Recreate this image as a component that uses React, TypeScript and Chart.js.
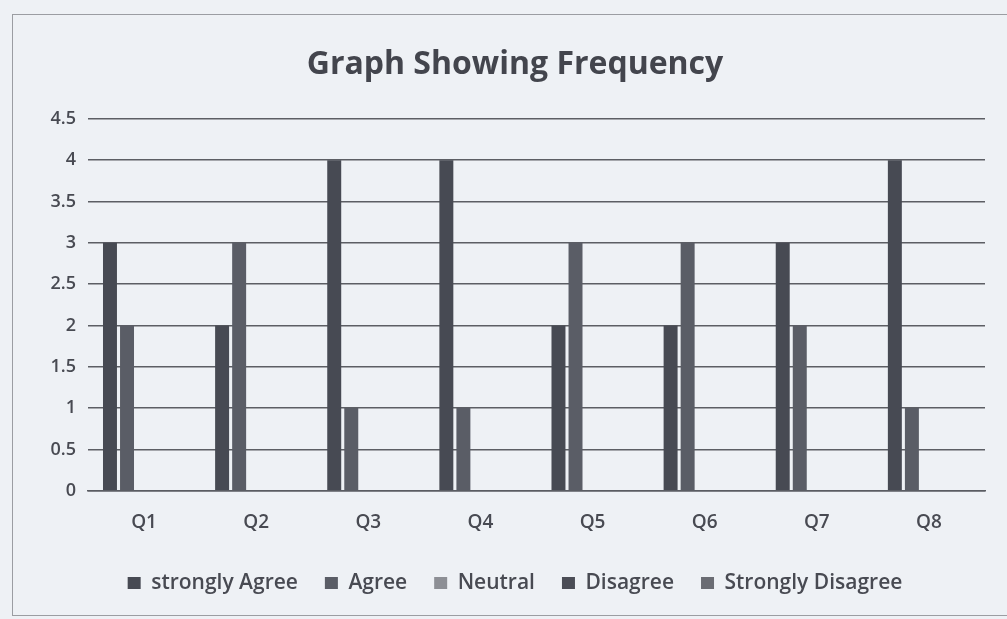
import React, { useEffect, useRef } from "react";
import { Chart, registerables } from "chart.js";

Chart.register(...registerables);

const categories = ["Q1", "Q2", "Q3", "Q4", "Q5", "Q6", "Q7", "Q8"];
const stronglyAgree = [3, 2, 4, 4, 2, 2, 3, 4];
const agree = [2, 3, 1, 1, 3, 3, 2, 1];
const neutral = [0, 0, 0, 0, 0, 0, 0, 0];
const disagree = [0, 0, 0, 0, 0, 0, 0, 0];
const stronglyDisagree = [0, 0, 0, 0, 0, 0, 0, 0];
const seriesNames = ["strongly Agree", "Agree", "Neutral", "Disagree", "Strongly Disagree"];
const seriesColors = ["#474a53", "#5a5d66", "#8d8f95", "#4b4d56", "#6a6c73"];

const FONT = "'Open Sans', Lato, sans-serif";

export default function App() {
  const ref = useRef<HTMLCanvasElement | null>(null);
  useEffect(() => {
    if (!ref.current) return;
    const data = [stronglyAgree, agree, neutral, disagree, stronglyDisagree];
    const chart = new Chart(ref.current, {
      type: "bar",
      data: {
        labels: categories,
        datasets: seriesNames.map((name, i) => ({
          label: name,
          data: data[i],
          backgroundColor: seriesColors[i],
          borderWidth: 0,
          categoryPercentage: 0.76,
          barPercentage: 0.82,
        })),
      },
      options: {
        animation: false,
        responsive: false,
        layout: { padding: { left: 45, right: 22, top: 10, bottom: 15.5 } },
        plugins: {
          tooltip: { enabled: false },
          title: {
            display: true,
            text: "Graph Showing Frequency",
            color: "#43454d",
            font: { family: FONT, size: 32, weight: "bold" },
            padding: { top: 36, bottom: 34.5 },
          },
          legend: {
            position: "bottom",
            labels: {
              color: "#484a52",
              font: { family: FONT, size: 21, weight: "600" },
              boxWidth: 13,
              boxHeight: 12,
              padding: 27,
            },
          },
        },
        scales: {
          x: {
            grid: { display: false },
            border: { display: true, color: "#5a5c62", width: 1.5 },
            ticks: { color: "#484a52", font: { family: FONT, size: 19, weight: "600" }, padding: 12 },
          },
          y: {
            min: 0,
            max: 4.5,
            afterFit: (s: any) => { s.width = 43; },
            grid: { color: "#5c5e64", lineWidth: 1.5, drawTicks: false },
            border: { display: false },
            ticks: {
              stepSize: 0.5,
              color: "#484a52",
              font: { family: FONT, size: 18, weight: "600" },
              padding: 12,
              callback: (v: any) => String(Number(v)),
            },
          },
        },
      },
    });
    return () => chart.destroy();
  }, []);
  return (
    <div style={{ position: "fixed", left: 0, top: 0, width: 1007, height: 619, background: "#eef1f5", overflow: "hidden" }}>
      <div
        style={{
          position: "absolute",
          left: 12,
          top: 14,
          width: 1010,
          height: 600,
          border: "1.5px solid #9b9da2",
        }}
      />
      <canvas ref={ref} width={1007} height={619} style={{ position: "absolute", left: 0, top: 0 }} />
    </div>
  );
}
